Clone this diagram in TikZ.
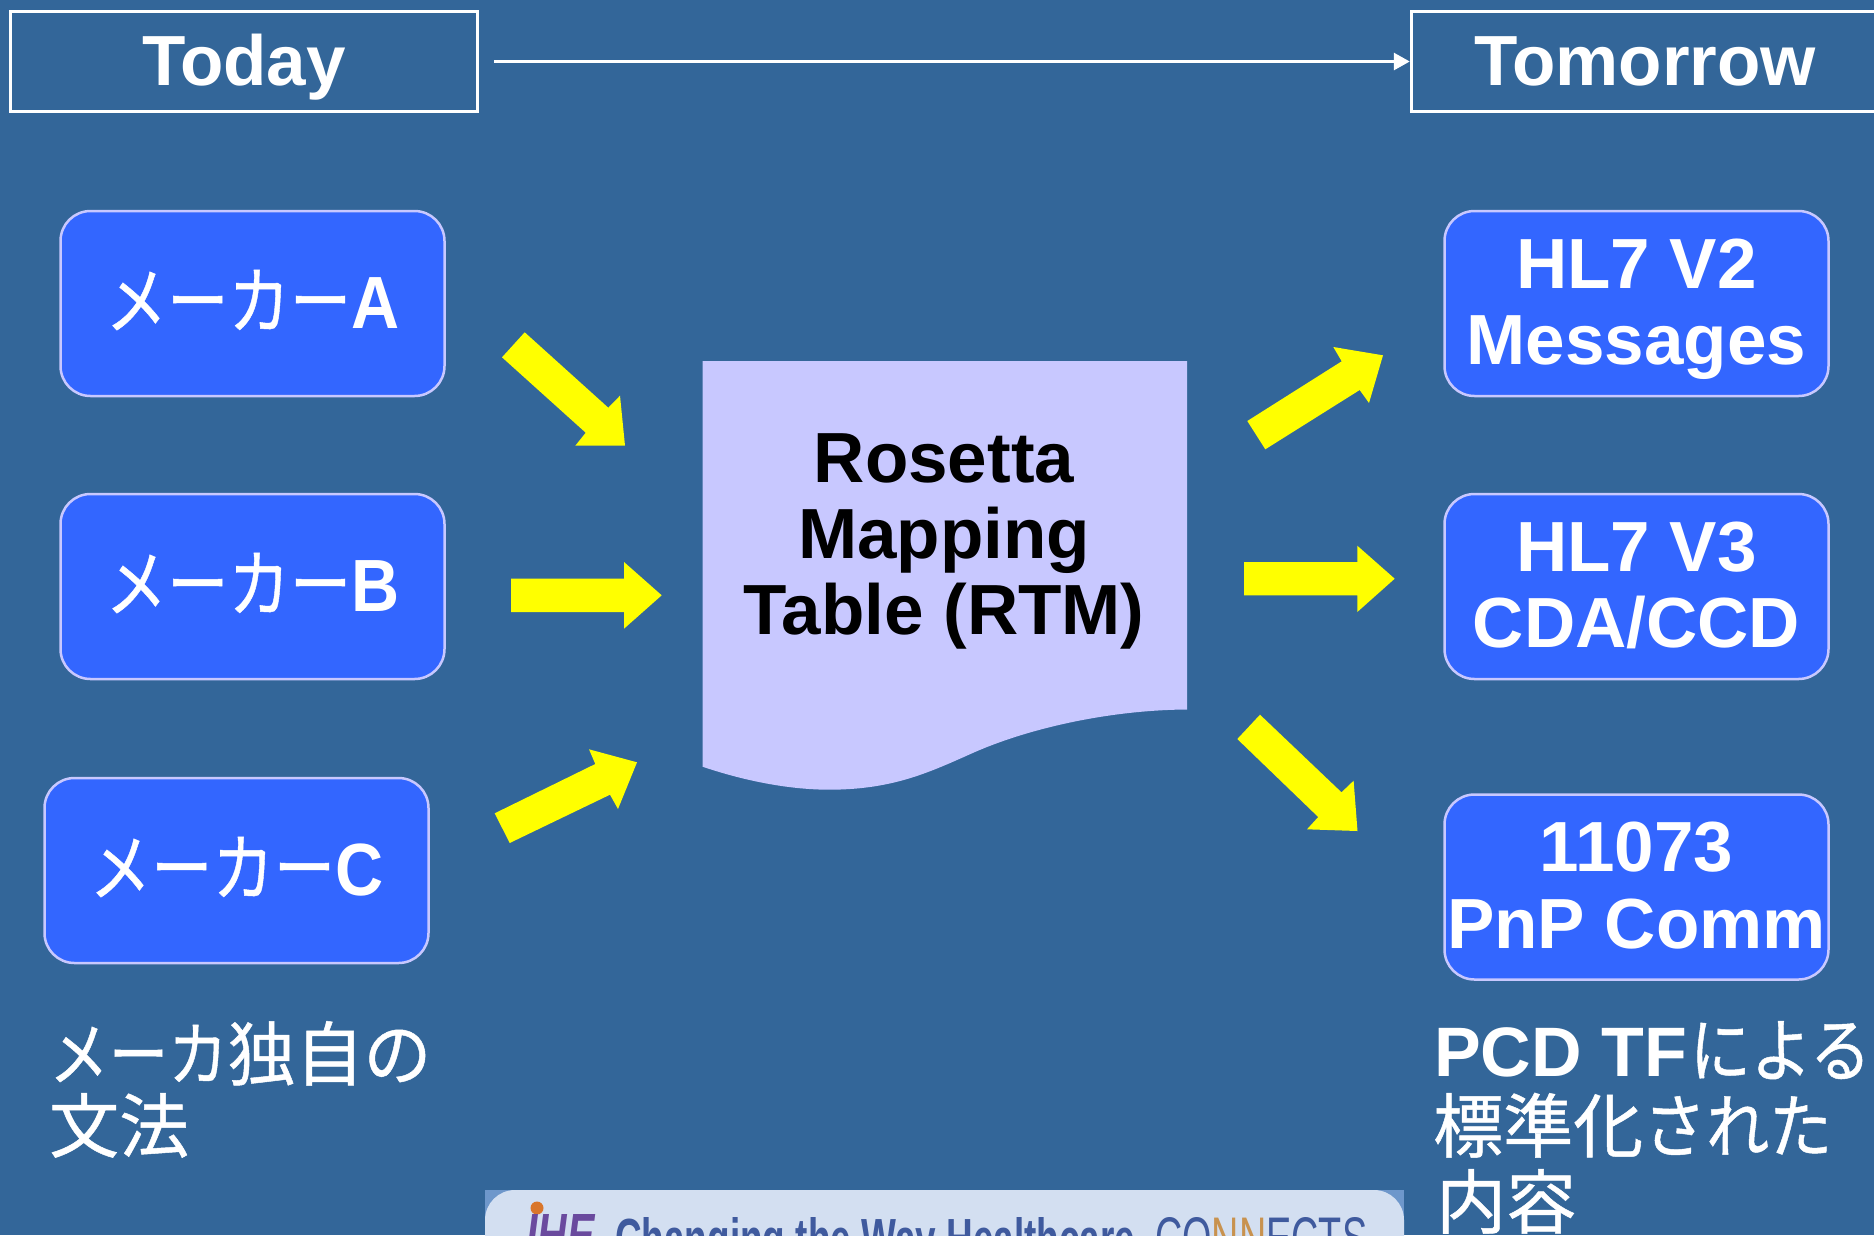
\documentclass[tikz,border=0pt]{standalone}
\usepackage{fontspec}
\usepackage{graphicx}
\setmainfont{Liberation Sans}
\newfontfamily\jpf[RawFeature={embolden=0.7}]{Noto Sans CJK JP}
\usetikzlibrary{arrows.meta}
\definecolor{bgblue}{HTML}{336699}
\definecolor{boxblue}{HTML}{3366FF}
\definecolor{paleblue}{HTML}{C8C8FF}
\definecolor{yel}{HTML}{FFFF00}
\definecolor{bannerfill}{HTML}{D3DFF1}
\definecolor{bannercorner}{HTML}{6E97CB}
\definecolor{bannertext}{HTML}{3F5A9E}
\definecolor{orangetext}{HTML}{C8924F}
\definecolor{ihepurple}{HTML}{6A4A9E}
\definecolor{iheorange}{HTML}{D9762B}
\newcommand\fs[1]{\fontsize{#1}{#1}\selectfont}
\newcommand\mk[1]{\scalebox{.83}[1]{{\jpf メーカー}}\scalebox{.9}[1]{\textbf{#1}}}
\newcommand\nar[1]{\scalebox{.87}[1]{{\jpf #1}}}
\tikzset{
  headbox/.style={draw=white,line width=3.5pt,minimum width=467pt,minimum height=100pt,inner sep=0pt,
    text=white,font=\fs{71}\bfseries,text height=50pt,text depth=3pt},
  makerbox/.style={draw=paleblue,fill=boxblue,line width=2.5pt,rounded corners=30pt,minimum width=384pt,
    minimum height=185pt,inner sep=0pt,text=white,font=\fs{74},text height=52pt,text depth=3pt},
  stdbox/.style={draw=paleblue,fill=boxblue,line width=2.5pt,rounded corners=30pt,minimum width=384pt,
    minimum height=185pt,inner sep=0pt,text=white,align=center,font=\fontsize{71}{76.5}\selectfont\bfseries,
    text height=126.5pt,text depth=4pt},
  bigarrow/.style={fill=yel,draw=none},
  freetext/.style={anchor=base west,inner sep=0pt,text=white,font=\fs{70}},
}
\begin{document}
\begin{tikzpicture}[x=1pt,y=-1pt]
\useasboundingbox (0,0) rectangle (1874,1235);
\begin{scope}
\clip (0,0) rectangle (1874,1235);
\fill[bgblue] (0,0) rectangle (1874,1235);

% header
\node[headbox] (today) at (244,61.5) {Today};
\node[headbox] (tomorrow) at (1645,61.5) {Tomorrow};
\draw[white,line width=3pt,shorten <=15pt,-{Triangle[length=16pt,width=17pt]}] (today.east) -- (tomorrow.west);

% left boxes
\node[makerbox] (makerA) at (252.5,303.5) {\mk{A}};
\node[makerbox] (makerB) at (252.5,586.5) {\mk{B}};
\node[makerbox] (makerC) at (236.5,870.5) {\mk{C}};

% right boxes
\node[stdbox] (v2) at (1636.5,303.5) {HL7 V2\\Messages};
\node[stdbox] (v3) at (1636.5,586.5) {HL7 V3\\CDA/CCD};
\node[stdbox] (pnp) at (1636.5,887) {11073\\PnP Comm};

% centre document
\fill[paleblue] (702.5,361) -- (1187,361) -- (1187,709.5)
  .. controls (1110,710) and (1030,728) .. (975,752)
  .. controls (930,772) and (895,789) .. (832,789.7)
  .. controls (790,790) and (745,781) .. (702.5,766.7) -- cycle;
\node[inner sep=0pt,align=center,text=black,font=\fontsize{71}{76}\selectfont\bfseries,
  text height=202pt,text depth=4pt] (rtm) at (944,535.7) {Rosetta\\Mapping\\Table (RTM)};

% block arrows
\fill[bigarrow] (524.7,332.3) -- (608.3,407.7) -- (620,395.7) -- (625,445.7) -- (575.3,445.7) -- (585.7,432.7) -- (502,357.3) -- cycle;
\fill[bigarrow] (511,578.7) -- (624,578.7) -- (624,562) -- (661.7,595.3) -- (624,628.7) -- (624,612) -- (511,612) -- cycle;
\fill[bigarrow] (494.7,813.3) -- (595.3,764) -- (589,749.3) -- (637,762.3) -- (618,809) -- (610,794.7) -- (509.7,843) -- cycle;
\fill[bigarrow] (1247.3,421) -- (1341.7,361.3) -- (1333.3,347) -- (1383,355.3) -- (1369,403) -- (1359.7,390) -- (1265.3,449.3) -- cycle;
\fill[bigarrow] (1244,562) -- (1357.3,562) -- (1357.3,545.7) -- (1394.7,578.7) -- (1357.3,612) -- (1357.3,595.3) -- (1244,595.3) -- cycle;
\fill[bigarrow] (1260,714.7) -- (1341.5,792.3) -- (1353.6,780.7) -- (1357.5,831) -- (1307,829.3) -- (1318.2,817) -- (1237.3,739) -- cycle;

% captions
\node[freetext] (capL1) at (49,1080) {\scalebox{.85}[1]{{\jpf メーカ}}\scalebox{.97}[1]{{\jpf 独自の}}};
\node[freetext] (capL2) at (49,1152) {{\jpf 文法}};
\node[freetext] (capR1) at (1434,1076) {\textbf{PCD TF}\kern3pt\nar{による}};
\node[freetext] (capR2) at (1433,1152) {{\jpf 標準化}\scalebox{.9}[1]{{\jpf された}}};
\node[freetext] (capR3) at (1436,1228) {{\jpf 内容}};

% footer banner
\fill[bannercorner] (485,1190) rectangle (1404,1240);
\fill[bannerfill,rounded corners=30pt] (485,1190) -- (1404,1190) -- (1404,1300) -- (485,1300) -- cycle;
\fill[iheorange] (537,1208) circle (6.5pt);
\node[anchor=base west,inner sep=0pt,text=ihepurple,font=\bfseries\itshape] (ihe) at (526,1256)
  {\resizebox{68pt}{42pt}{IHE}};
\node[anchor=base west,inner sep=0pt,text=bannertext] (slogan) at (615,1258)
  {\resizebox{520pt}{41pt}{\bfseries Changing the Way Healthcare}};
\node[anchor=base west,inner sep=0pt,text=bannertext] (connects) at (1155,1258)
  {\resizebox{212pt}{41pt}{CO\textcolor{orangetext}{NN}ECTS}};
\end{scope}
\end{tikzpicture}
\end{document}
